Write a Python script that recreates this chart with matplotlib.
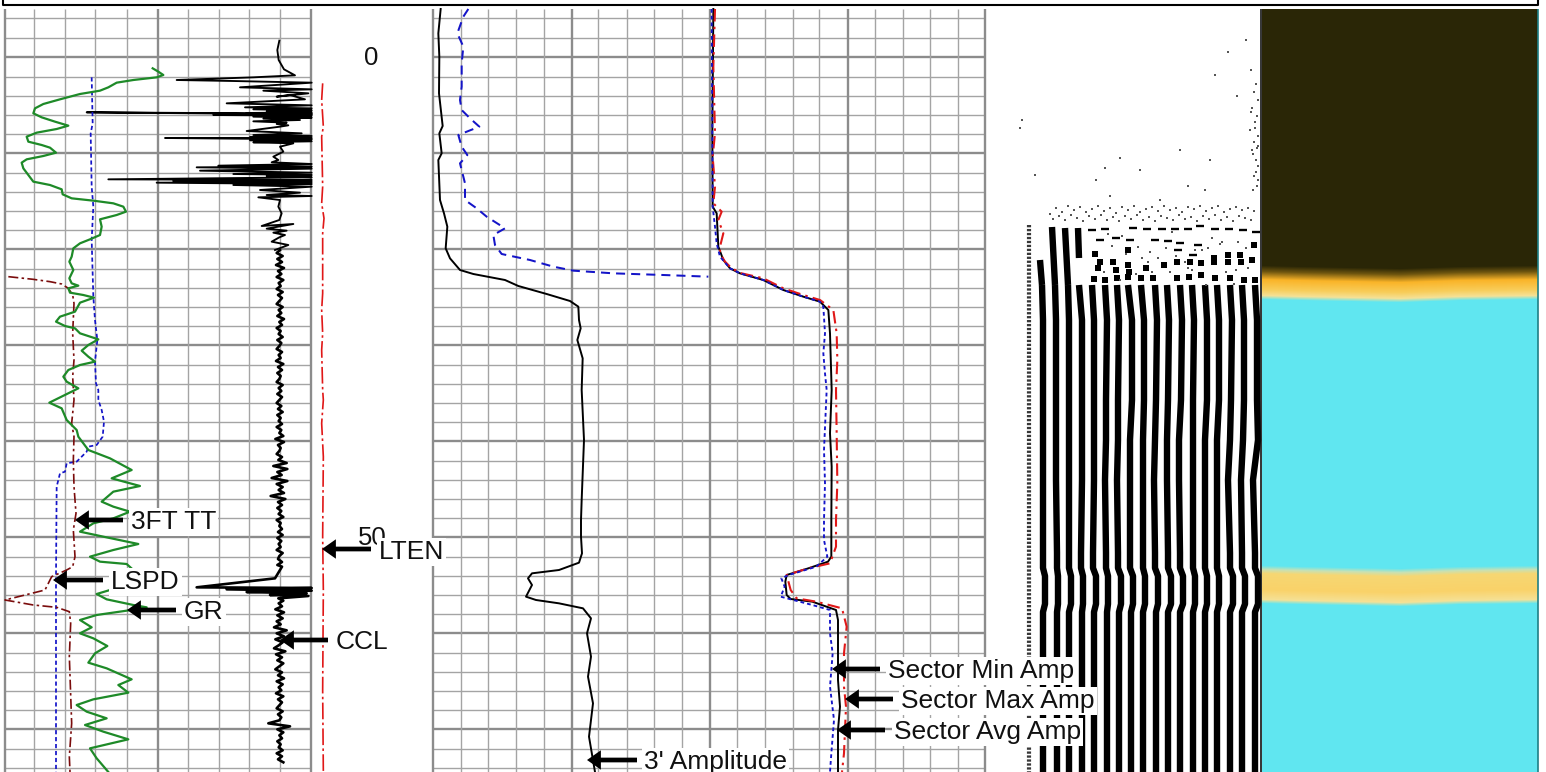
import numpy as np
import matplotlib
matplotlib.use("Agg")
import matplotlib.pyplot as plt

plt.rcParams['font.family'] = ['Liberation Sans', 'DejaVu Sans']
plt.rcParams['lines.solid_joinstyle'] = 'round'
plt.rcParams['lines.dash_joinstyle'] = 'round'

READ = 3.0  # curve readings are stored in thirds of a pixel

TRACK1_MINOR = [34, 65, 95, 127, 188, 219, 249, 280]
TRACK1_MAJOR = [5, 158, 311]
TRACK2_MINOR = [461, 488, 516, 544, 598, 627, 654, 682, 737, 765, 793, 819, 875, 903, 930, 958]
TRACK2_MAJOR = [433, 572, 710, 848, 985]
DEPTH_MINOR = [18, 38, 77, 96, 115, 134, 173, 192, 211, 230, 269, 288, 307, 326, 365, 384, 403, 422,
               461, 480, 499, 518, 557, 576, 595, 614, 653, 672, 691, 710, 749, 768]
DEPTH_MAJOR = [57, 153, 249, 345, 441, 537, 633, 729]

GR_X = [458, 475, 490, 470, 400, 350, 325, 300, 240, 180, 130, 105, 100, 125, 165, 205, 170, 110, 80, 85, 125, 150, 168, 130, 80, 65, 70, 85, 100, 150, 185, 188, 215, 280, 340, 370, 378, 350, 300, 305, 300, 270, 240, 220, 215, 208, 220, 208, 215, 235, 205, 210, 250, 282, 240, 225, 180, 168, 195, 225, 240, 295, 265, 245, 265, 285, 240, 205, 190, 200, 235,
        148, 185, 200, 230, 235, 265, 330, 395, 335, 420, 340, 305, 340, 390, 340, 280, 240, 310, 415, 340, 270, 300, 380, 400, 390, 350, 330, 290, 320, 400, 440, 380, 290, 240, 275, 240, 280, 322, 285, 265, 320, 395, 355, 385, 280, 230, 260, 320, 255, 310, 385, 270, 290, 325]
GR_Y = [205, 215, 225, 232, 240, 248, 262, 272, 282, 298, 312, 325, 340, 352, 365, 377, 387, 398, 410, 425, 435, 443, 458, 468, 478, 488, 505, 525, 545, 555, 568, 583, 595, 602, 610, 620, 635, 645, 658, 680, 705, 718, 730, 745, 770, 785, 810, 835, 850, 857, 865, 878, 885, 893, 908, 935, 950, 965, 978, 985, 1000, 1018, 1035, 1052, 1070, 1085, 1095, 1110, 1130, 1145, 1165,
        1208, 1225, 1260, 1290, 1310, 1350, 1375, 1410, 1435, 1458, 1475, 1505, 1520, 1535, 1555, 1570, 1595, 1610, 1632, 1650, 1670, 1685, 1692, 1710, 1740, 1760, 1770, 1782, 1798, 1815, 1822, 1832, 1845, 1860, 1882, 1900, 1915, 1938, 1960, 1988, 2005, 2038, 2055, 2078, 2098, 2115, 2135, 2155, 2175, 2195, 2218, 2245, 2275, 2316]

TT_X = [275, 278, 272, 275, 280, 275, 280, 285, 292, 285, 288, 295, 295, 305, 312, 308, 290, 265, 260, 230, 200, 195, 180, 170, 168, 168]
TT_Y = [232, 370, 400, 560, 620, 720, 890, 960, 1020, 1085, 1150, 1170, 1200, 1230, 1265, 1310, 1335, 1340, 1355, 1385, 1390, 1415, 1420, 1460, 1730, 2316]

LSPD_X = [25, 100, 150, 185, 205, 218, 222, 218, 222, 218, 222, 215, 222, 220, 222, 228, 220, 225, 218, 200, 155, 135, 15, 100, 170, 208, 212, 208, 215, 208, 210]
LSPD_Y = [830, 838, 845, 852, 865, 885, 910, 1000, 1080, 1130, 1200, 1270, 1310, 1380, 1460, 1540, 1590, 1670, 1700, 1710, 1730, 1770, 1800, 1815, 1822, 1835, 1870, 1970, 2170, 2270, 2316]

LTEN_X = [968, 965, 970, 965, 968, 965, 972, 968, 968, 965, 968, 965, 968, 970, 965, 970, 968, 970, 968, 970]
LTEN_Y = [250, 300, 380, 410, 560, 610, 655, 700, 880, 930, 1000, 1050, 1170, 1200, 1270, 1370, 1610, 1770, 2070, 2316]

CCL_TOP_X = [838, 832, 836, 852, 885, 760, 530, 700, 935, 720, 935, 790, 925, 830, 870, 915, 680, 935, 735, 935, 760, 935, 800, 935, 740, 935, 260, 935, 640, 935, 760, 935, 790, 900, 760, 860, 830, 865, 840, 740, 905, 760, 935, 750, 935, 495, 935, 750, 935, 760, 880, 840, 850, 820, 835, 815, 935, 655, 935, 590, 935, 600, 935, 700, 935, 800, 935, 325, 935, 520, 935, 470, 935, 700, 935, 780, 900, 800, 935, 775, 840, 835, 845, 838, 785, 880, 800, 860, 820, 855, 838, 815, 865, 825]
CCL_TOP_Y = [122, 150, 180, 208, 226, 232, 240, 243, 248, 262, 268, 272, 280, 290, 285, 298, 310, 316, 322, 325, 328, 331, 334, 337, 339, 341, 337, 343, 345, 347, 350, 353, 356, 360, 364, 368, 372, 376, 380, 393, 400, 405, 408, 411, 414, 414, 418, 421, 424, 427, 430, 440, 455, 470, 480, 487, 492, 497, 500, 502, 506, 512, 518, 522, 525, 528, 532, 538, 540, 543, 546, 548, 552, 555, 560, 570, 578, 585, 588, 592, 600, 620, 640, 660, 678, 672, 686, 692, 698, 705, 712, 725, 735, 750]
CCL_MID_X = [840, 830, 848, 832, 846, 828, 852, 834, 844, 830, 850, 836, 842, 830, 848, 834, 846, 838, 830, 848, 836, 844, 832, 852, 838, 846, 830, 842, 836, 848, 832, 844, 838, 830, 846, 836, 842, 828, 850, 834, 846, 832, 842, 838, 830, 848, 836, 844, 832, 846, 838, 830, 844, 834, 848, 832, 842, 836, 846, 830, 844, 838, 850, 826, 852, 834, 842, 838, 830, 846, 835, 860, 820, 862, 832, 845, 815, 862, 830, 848, 836, 852, 812, 856, 834, 846, 832, 844, 836, 850, 830, 842, 838, 846, 834, 848, 832, 844, 836, 842, 830, 848, 838, 834, 846, 832]
CCL_BURST_X = [846, 825, 590, 935, 680, 935, 740, 920, 810, 925, 835, 850]
CCL_BURST_Y = [1700, 1735, 1762, 1764, 1768, 1772, 1776, 1780, 1785, 1788, 1795, 1802]
CCL_LOW_X = [836, 846, 826, 852, 832, 848, 830, 842, 822, 860, 830, 852, 826, 848, 836, 822, 856, 828, 846, 832, 850, 838, 826, 846, 834, 852, 830, 848, 836, 844, 828, 850, 834, 846, 838, 830, 848, 834, 844, 838, 805, 870, 832, 850, 838, 846, 832, 842, 836, 848, 830, 846, 834, 850]
CCL_LOW_Y_START = 1810
CCL_SAMPLE = 9

AMP3_X = [1322, 1315, 1318, 1317, 1328, 1318, 1325, 1315, 1320, 1332, 1342, 1337, 1350, 1380, 1420, 1515, 1555, 1640, 1710, 1735, 1737, 1742, 1732, 1748, 1745, 1752, 1745, 1743, 1743, 1746, 1737, 1677, 1596, 1584, 1596, 1578, 1608, 1677, 1749, 1773, 1761, 1773, 1764, 1779, 1767, 1785]
AMP3_Y = [27, 100, 170, 280, 378, 400, 460, 480, 600, 640, 680, 745, 775, 810, 822, 840, 858, 882, 903, 920, 960, 985, 1020, 1075, 1170, 1320, 1500, 1560, 1610, 1660, 1688, 1710, 1720, 1735, 1755, 1790, 1800, 1810, 1825, 1855, 1900, 1970, 2030, 2110, 2210, 2316]
AMP3B_X = [1405, 1390, 1372, 1390, 1385, 1385, 1380, 1385, 1410, 1438, 1375, 1385, 1402, 1380, 1395, 1395, 1430, 1460, 1515, 1480, 1485, 1505, 1590, 1660, 1720, 1840, 1990, 2125]
AMP3B_Y = [27, 50, 100, 140, 190, 260, 300, 330, 355, 380, 405, 440, 465, 490, 550, 600, 625, 650, 685, 705, 735, 762, 780, 800, 812, 820, 825, 830]

SEC_AVG_X = [2140, 2137, 2138, 2150, 2152, 2155, 2170, 2190, 2220, 2290, 2350, 2410, 2460, 2485, 2490, 2495, 2490, 2495, 2494, 2494, 2494, 2484, 2425, 2360, 2356, 2360, 2372, 2437, 2508, 2514, 2514, 2514, 2520, 2514, 2514]
SEC_AVG_Y = [27, 400, 620, 640, 680, 740, 780, 805, 820, 840, 870, 890, 905, 930, 1000, 1170, 1300, 1400, 1560, 1610, 1670, 1685, 1705, 1725, 1745, 1785, 1797, 1805, 1830, 1860, 1980, 2040, 2120, 2190, 2316]
SEC_MAX_X = [2145, 2140, 2145, 2138, 2145, 2140, 2165, 2155, 2170, 2160, 2160, 2175, 2195, 2225, 2290, 2350, 2410, 2460, 2500, 2510, 2512, 2508, 2510, 2512, 2508, 2508, 2490, 2425, 2360, 2372, 2390, 2449, 2526, 2540, 2532, 2532, 2538, 2532, 2526]
SEC_MAX_Y = [27, 200, 400, 470, 560, 610, 635, 660, 700, 740, 760, 785, 805, 820, 835, 865, 885, 900, 930, 1000, 1080, 1170, 1300, 1450, 1560, 1640, 1690, 1705, 1725, 1770, 1795, 1805, 1825, 1880, 1960, 2060, 2120, 2260, 2316]
SEC_MIN_X = [2135, 2138, 2145, 2150, 2160, 2190, 2220, 2290, 2350, 2410, 2460, 2470, 2475, 2470, 2475, 2480, 2472, 2475, 2472, 2472, 2482, 2449, 2366, 2344, 2354, 2342, 2437, 2490, 2490, 2498, 2490, 2502, 2494, 2490]
SEC_MIN_Y = [27, 620, 680, 730, 770, 805, 820, 840, 870, 890, 905, 920, 1000, 1060, 1120, 1170, 1350, 1450, 1560, 1620, 1670, 1700, 1725, 1735, 1760, 1790, 1815, 1830, 1900, 1960, 2060, 2160, 2260, 2316]

VDL_ROWS = [285, 320, 400, 440, 480, 553, 568, 576, 604, 612, 700, 772]
VDL_STRIPES = [
    [1042, 1055, 1068, 1079, 1092, 1105, 1117, 1128, 1141, 1155, 1167, 1180, 1192, 1205, 1217, 1230, 1242, 1255],
    [1043, 1056, 1069, 1082, 1094, 1107, 1119, 1132, 1144, 1157, 1169, 1182, 1194, 1207, 1219, 1232, 1244, 1257],
    [1043, 1056, 1069, 1082, 1094, 1106, 1118, 1132, 1144, 1156, 1168, 1181, 1193, 1207, 1219, 1231, 1244, 1257],
    [1043, 1056, 1069, 1082, 1094, 1106, 1118, 1130, 1143, 1155, 1167, 1179, 1193, 1205, 1217, 1230, 1243, 1258],
    [1043, 1056, 1069, 1082, 1094, 1105, 1117, 1130, 1143, 1154, 1167, 1179, 1193, 1205, 1217, 1228, 1241, 1253],
    [1043, 1057, 1069, 1081, 1093, 1106, 1118, 1130, 1143, 1155, 1168, 1180, 1193, 1205, 1217, 1230, 1242, 1255],
    [1043, 1057, 1069, 1081, 1093, 1106, 1118, 1130, 1143, 1155, 1168, 1180, 1193, 1205, 1217, 1230, 1242, 1255],
    [1045, 1058, 1071, 1083, 1096, 1108, 1121, 1133, 1145, 1158, 1171, 1183, 1195, 1207, 1219, 1233, 1245, 1258],
    [1045, 1058, 1071, 1083, 1096, 1108, 1121, 1133, 1145, 1158, 1171, 1183, 1195, 1207, 1219, 1233, 1245, 1258],
    [1043, 1057, 1069, 1082, 1094, 1107, 1119, 1131, 1143, 1156, 1168, 1180, 1193, 1205, 1217, 1230, 1242, 1255],
    [1043, 1057, 1069, 1082, 1094, 1107, 1119, 1131, 1143, 1156, 1168, 1180, 1193, 1205, 1217, 1230, 1242, 1255],
    [1043, 1057, 1069, 1082, 1094, 1107, 1119, 1131, 1143, 1156, 1168, 1180, 1193, 1205, 1217, 1230, 1242, 1255],
]
VDL_HEAD_X = [[1040, 1042], [1052, 1055], [1065, 1068], [1078, 1079]]
VDL_HEAD_Y = [[260, 285], [227, 285], [228, 285], [228, 258]]
VDL_DASH_X = [1092, 1105, 1133, 1147, 1162, 1175, 1188, 1200, 1215, 1229, 1243, 1256, 1100, 1116, 1130, 1155, 1168, 1180, 1198, 1178, 1193]
VDL_DASH_Y = [230, 229, 228, 229, 229, 229, 229, 226, 229, 229, 230, 232, 240, 238, 240, 240, 241, 243, 245, 250, 255]
VDL_BLOB_X = [1095, 1100, 1098, 1113, 1116, 1128, 1128, 1129, 1146, 1164, 1177, 1190, 1201, 1214, 1214, 1228, 1228, 1240, 1241, 1252, 1254, 1094, 1105, 1117, 1128, 1141, 1153, 1177, 1189, 1201, 1215, 1230, 1244, 1255]
VDL_BLOB_Y = [254, 262, 268, 262, 270, 250, 265, 272, 268, 265, 262, 262, 263, 262, 258, 262, 255, 255, 262, 260, 245, 279, 280, 278, 277, 278, 278, 278, 277, 275, 278, 278, 280, 280]
DOT_X = [1228, 1246, 1215, 1237, 1251, 1256, 1254, 1258, 1252, 1257, 1255, 1250, 1258, 1254, 1257, 1253, 1256, 1258, 1251, 1255, 1258, 1252, 1256, 1254, 1258, 1257, 1253, 1022, 1020, 1035, 1120, 1140, 1180, 1210, 1096, 1105, 1110, 1205, 1188, 1160,
         1050, 1056, 1062, 1068, 1074, 1080, 1086, 1092, 1098, 1104, 1110, 1116, 1122, 1128, 1134, 1140, 1146, 1152, 1158, 1164, 1170, 1176, 1182, 1188, 1194, 1200, 1206, 1212, 1218, 1224, 1230, 1236, 1242, 1248, 1254,
         1053, 1059, 1065, 1071, 1077, 1083, 1089, 1095, 1101, 1107, 1113, 1119, 1125, 1131, 1137, 1143, 1149, 1155, 1161, 1167, 1173, 1179, 1185, 1191, 1197, 1203, 1209, 1215, 1221, 1227, 1233, 1239, 1245, 1251,
         1108, 1122, 1138, 1150, 1158, 1172, 1185, 1195, 1208, 1222, 1236, 1248, 1112, 1126, 1142, 1152, 1166, 1176, 1188, 1202, 1212, 1226, 1238, 1104, 1120, 1136, 1148, 1170, 1192, 1206, 1220, 1234, 1246]
DOT_Y = [52, 40, 75, 96, 70, 84, 92, 100, 108, 116, 122, 130, 136, 142, 148, 154, 160, 166, 112, 128, 146, 150, 172, 176, 180, 186, 190, 120, 128, 175, 158, 170, 150, 160, 180, 168, 196, 190, 186, 200,
         214, 208, 212, 206, 210, 207, 212, 209, 206, 211, 208, 213, 207, 210, 206, 212, 209, 207, 211, 206, 210, 208, 212, 207, 209, 206, 211, 208, 206, 212, 209, 207, 210, 208, 211,
         219, 216, 220, 215, 218, 221, 216, 219, 215, 220, 217, 221, 216, 219, 215, 220, 217, 221, 216, 218, 220, 215, 219, 217, 221, 216, 219, 215, 220, 217, 221, 216, 218, 220,
         234, 236, 247, 252, 258, 232, 262, 250, 248, 242, 270, 268, 246, 254, 258, 272, 248, 256, 268, 250, 238, 272, 242, 272, 280, 274, 262, 272, 270, 285, 244, 284, 248]

IMG_ROWS = [9, 266, 272, 280, 290, 296, 300, 566, 570, 574, 590, 600, 604, 772]
IMG_R = [42, 42, 110, 250, 248, 245, 96, 96, 200, 246, 250, 245, 96, 96]
IMG_G = [38, 38, 85, 180, 205, 225, 230, 230, 225, 215, 210, 225, 230, 230]
IMG_B = [6, 6, 15, 40, 90, 150, 240, 240, 180, 115, 105, 150, 240, 240]
IMG_COL = [1262, 1300, 1400, 1460, 1538]
IMG_SHIFT = [-1, 0, 2, 0, -1]

LABELS = ["3FT TT", "LSPD", "GR", "CCL", "LTEN", "Sector Min Amp", "Sector Max Amp", "Sector Avg Amp", "3' Amplitude"]
LABEL_X = [131, 111, 184, 336, 379, 888, 901, 894, 644]
LABEL_Y = [522, 582, 612, 642, 552, 671, 701, 732, 762]
ARROW_TIP = [75, 53, 127, 280, 322, 832, 845, 837, 587]
ARROW_TAIL = [123, 103, 176, 328, 371, 880, 893, 885, 637]
DEPTH_LABELS = ["0", "50"]
DEPTH_LABEL_X = [371, 372]
DEPTH_LABEL_Y = [58, 538]

fig = plt.figure(figsize=(15.46, 7.72), dpi=100)
ax = fig.add_axes([0, 0, 1, 1])
ax.set_xlim(0, 1546)
ax.set_ylim(772, 0)
ax.axis('off')

# header frame
ax.plot([3, 3, 1538, 1538], [0, 5, 5, 0], color='black', lw=1.5, zorder=6)

# grids
minor_c, major_c = '#a4a4a4', '#8c8c8c'
for x0, x1, vmin, vmaj in [(5, 311, TRACK1_MINOR, TRACK1_MAJOR), (433, 985, TRACK2_MINOR, TRACK2_MAJOR)]:
    ax.hlines(DEPTH_MINOR, x0, x1, color=minor_c, lw=1.0, zorder=1)
    ax.hlines(DEPTH_MAJOR, x0, x1, color=major_c, lw=1.7, zorder=1)
    ax.vlines(vmin, 9, 772, color=minor_c, lw=1.0, zorder=1)
    ax.vlines(vmaj, 9, 772, color=major_c, lw=1.7, zorder=1)

def curve(xs, ys, **kw):
    ax.plot(np.array(xs) / READ, np.array(ys) / READ, zorder=3, **kw)

# track 1
ccl_mid_y = 750 + CCL_SAMPLE * np.arange(len(CCL_MID_X))
ccl_low_y = CCL_LOW_Y_START + CCL_SAMPLE * np.arange(len(CCL_LOW_X))
curve(CCL_TOP_X, CCL_TOP_Y, color='black', lw=1.35)
curve(CCL_MID_X + CCL_BURST_X + CCL_LOW_X,
      list(ccl_mid_y) + CCL_BURST_Y + list(ccl_low_y), color='black', lw=1.9)
curve(LTEN_X, LTEN_Y, color='#e01818', lw=1.2, ls=(0, (10, 2, 1.5, 2)))
curve(TT_X, TT_Y, color='#1414c8', lw=1.25, ls=(0, (2.4, 1.6)))
curve(LSPD_X, LSPD_Y, color='#7a0c0c', lw=1.2, ls=(0, (6, 2, 1.5, 2)))
curve(GR_X, GR_Y, color='#1e8a28', lw=1.6)

# track 2
curve(AMP3B_X, AMP3B_Y, color='#1414c8', lw=1.45, ls=(0, (4.5, 3)))
curve(AMP3_X, AMP3_Y, color='black', lw=1.4)
curve(SEC_AVG_X, SEC_AVG_Y, color='black', lw=1.4)
curve(SEC_MAX_X, SEC_MAX_Y, color='#e01818', lw=1.5, ls=(0, (6, 2.5, 1.2, 2.5)))
curve(SEC_MIN_X, SEC_MIN_Y, color='#1414c8', lw=1.35, ls=(0, (2, 1.6)))

# waveform track
stripes = np.array(VDL_STRIPES)
for i in range(stripes.shape[1]):
    ax.plot(stripes[:, i], VDL_ROWS, color='black', lw=4.6, solid_capstyle='butt', zorder=2)
for hx, hy in zip(VDL_HEAD_X, VDL_HEAD_Y):
    ax.plot(hx, hy, color='black', lw=4.6, solid_capstyle='butt', zorder=2)
ax.plot([1029, 1029], [225, 772], color='#383838', lw=3.0, ls=(0, (0.55, 0.4)), zorder=2)
ax.scatter(VDL_DASH_X, VDL_DASH_Y, marker='_', s=34, linewidths=1.7, color='black', zorder=2)
ax.scatter(VDL_BLOB_X, VDL_BLOB_Y, marker='s', s=14, linewidths=0, color='black', zorder=2)
ax.scatter(DOT_X, DOT_Y, marker='s', s=1.4, linewidths=0, color='#555555', zorder=2)

# image track
rows = np.arange(9, 772)
cols = np.arange(IMG_COL[0], IMG_COL[-1])
shift = np.interp(cols, IMG_COL, IMG_SHIFT)
img = np.zeros((len(rows), len(cols), 3))
for k, ch in enumerate([IMG_R, IMG_G, IMG_B]):
    for j, s in enumerate(shift):
        img[:, j, k] = np.interp(rows - s, IMG_ROWS, ch) / 255.0
ax.imshow(img, extent=(IMG_COL[0], IMG_COL[-1], 772, 9), aspect='auto', zorder=2, interpolation='bilinear')
ax.set_xlim(0, 1546)
ax.set_ylim(772, 0)
ax.vlines(1261, 9, 772, color='#101010', lw=1.2, zorder=3)
ax.vlines(1538, 9, 772, color='#1f7f86', lw=1.2, zorder=3)

# depth labels
for lab, x, y in zip(DEPTH_LABELS, DEPTH_LABEL_X, DEPTH_LABEL_Y):
    ax.text(x, y, lab, fontsize=18.5, ha='center', va='center', color='#111111', zorder=4)

# annotations
for lab, lx, ly, tip, tail in zip(LABELS, LABEL_X, LABEL_Y, ARROW_TIP, ARROW_TAIL):
    ax.text(lx, ly, lab, fontsize=19, ha='left', va='center', color='#111111', zorder=7,
            bbox=dict(facecolor='white', edgecolor='none', pad=1.5))
    ay = ly - 2 if lab != "LTEN" else ly - 3
    ax.annotate('', xy=(tip, ay), xytext=(tail, ay), zorder=8,
                arrowprops=dict(facecolor='black', edgecolor='none', width=3.4, headwidth=14,
                                headlength=10, shrink=0))

fig.savefig('out.png', dpi=100)
